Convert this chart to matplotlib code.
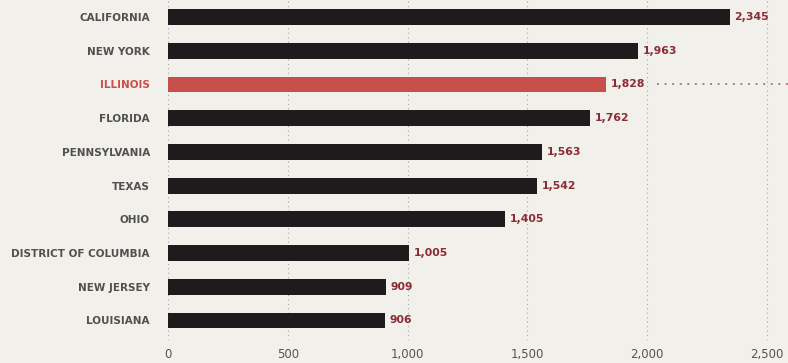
import matplotlib.pyplot as plt
from matplotlib.ticker import FuncFormatter

# data
states = ["CALIFORNIA", "NEW YORK", "ILLINOIS", "FLORIDA", "PENNSYLVANIA",
          "TEXAS", "OHIO", "DISTRICT OF COLUMBIA", "NEW JERSEY", "LOUISIANA"]
values = [2345, 1963, 1828, 1762, 1563, 1542, 1405, 1005, 909, 906]
highlight = "ILLINOIS"
xticks = [0, 500, 1000, 1500, 2000, 2500]

bg = "#f2f0eb"
bar_dark = "#1d1b1b"
bar_red = "#c84f4b"
val_col = "#8a2b35"

plt.rcParams['font.family'] = ['DejaVu Sans']

fig = plt.figure(figsize=(7.88, 3.63), dpi=100, facecolor=bg)
ax = fig.add_axes([168 / 788, 23 / 363, 620 / 788, 340 / 363])
ax.set_facecolor(bg)

ypos = list(range(len(states)))
colors = [bar_red if s == highlight else bar_dark for s in states]
ax.barh(ypos, values, height=0.47, color=colors, zorder=3)

ax.set_xlim(0, 2588)
ax.set_ylim(9.58, -0.504)

ax.set_xticks(xticks)
ax.xaxis.set_major_formatter(FuncFormatter(lambda v, p: f"{int(v):,}"))
ax.grid(axis="x", linestyle=(0, (1, 3)), color="#a5a5a5", linewidth=0.8, zorder=0)
ax.tick_params(axis="x", length=0, pad=6, labelsize=8.5, labelcolor="#555555")
ax.tick_params(axis="y", length=0, pad=13)
ax.set_yticks(ypos)
ax.set_yticklabels(states, fontsize=7.5, fontweight="bold")
for lab, s in zip(ax.get_yticklabels(), states):
    lab.set_color(bar_red if s == highlight else "#505050")

for sp in ax.spines.values():
    sp.set_visible(False)

for y, v in zip(ypos, values):
    ax.text(v + 20, y, f"{v:,}", va="center", ha="left", fontsize=7.8,
            color=val_col, fontweight="bold")

hi = states.index(highlight)
ax.plot([values[hi] + 215, 2588], [hi, hi], linestyle=(0, (1, 2.9)),
        color="#b07a7e", linewidth=1.4, zorder=2)

fig.savefig("out.png", dpi=100, facecolor=bg)
